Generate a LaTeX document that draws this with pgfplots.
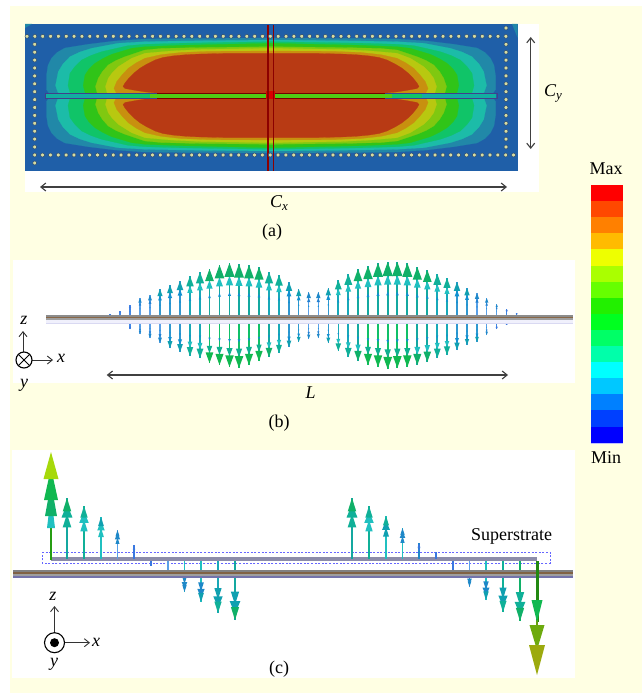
\documentclass[border=0pt]{standalone}
\usepackage{pgfplots}
\usepackage{pgfplotstable}
\usepackage{fontspec}
\setmainfont{Liberation Serif}
\pgfplotsset{compat=1.18}
\usetikzlibrary{arrows.meta}
\definecolor{bgy}{HTML}{FFFFE3}
\definecolor{lA}{HTML}{1F5FA8}
\definecolor{l1}{HTML}{2188A8}
\definecolor{l2}{HTML}{1CBCA8}
\definecolor{l3}{HTML}{10C468}
\definecolor{l4}{HTML}{30C418}
\definecolor{l5}{HTML}{80C810}
\definecolor{l6}{HTML}{B8C810}
\definecolor{l7}{HTML}{C8900F}
\definecolor{l8}{HTML}{B83A14}
\definecolor{hA}{HTML}{3A78E0}\definecolor{sA}{HTML}{4488E8}\definecolor{mA}{HTML}{3A78E0}
\definecolor{hB}{HTML}{1E88C8}\definecolor{sB}{HTML}{5AA0E8}\definecolor{mB}{HTML}{2080D0}
\definecolor{hC}{HTML}{10A0B0}\definecolor{sC}{HTML}{3098D0}\definecolor{mC}{HTML}{1090D0}
\definecolor{hD}{HTML}{10B098}\definecolor{sD}{HTML}{18A8B8}\definecolor{mD}{HTML}{20C0C0}
\definecolor{hE}{HTML}{10B068}\definecolor{sE}{HTML}{14A8A0}\definecolor{mE}{HTML}{20C0C0}
\definecolor{hF}{HTML}{10B850}\definecolor{sF}{HTML}{10C068}\definecolor{mF}{HTML}{10B090}
\definecolor{gr}{HTML}{404040}
\definecolor{dotf}{HTML}{D8DCA0}
\definecolor{dotd}{HTML}{2A4A70}

\pgfplotstableread{
dx dy
0 0
0 57.5
90 57
126 56.5
156 54.5
183 51.2
206 47.5
214 43
219.3 37.5
223 30
224.5 20
224.5 6
222 2.5
216 0
}\qA
\pgfplotstableread{
dx dy
0 0
0 55.5
90 54.5
126 53.8
153 52.2
179.3 47.2
191 43.5
201 38.8
208 31.5
212.7 23.8
215.5 10
213 3
207 0
}\qB
\pgfplotstableread{
dx dy
0 0
0 53.8
90 52.3
126 51.2
143 49.8
169.3 43.8
180 40
189.3 35.5
196 29
201 22.2
203 10
201 3
196 0
}\qC
\pgfplotstableread{
dx dy
0 0
0 52.2
90 50.2
126 48.8
139.3 47.2
159.3 41.2
168 37
176 32.2
182 26.5
186 20.5
187.8 10
186 3
181 0
}\qD
\pgfplotstableread{
dx dy
0 0
0 48.8
80 47.8
110 47
126 45.5
146 38.8
155 35
162.7 30.5
168.5 24
172.7 17.2
175.5 9
174 3
170 0
}\qE
\pgfplotstableread{
dx dy
0 0
0 47.2
70 46
100 44.5
126 42.2
139.3 37.2
152.7 28.8
158.5 23
162.7 17.2
165.5 9
164 3
160 0
}\qF
\pgfplotstableread{
dx dy
0 0
0 44.5
60 44.2
90 43
110 40.8
126 37.2
135 32.5
142.7 27.2
149 20.5
154.3 13.8
157 7
155 3
150 0
}\qG
\pgfplotstableread{
dx dy
0 0
0 42
48 42
70 41.5
85 40.8
98 39.6
108 38
116 35.5
124 31.5
131 27.3
137 22.5
142 17.5
146 12.5
148 9
146 7
135 5
125 3.5
114 2.5
114 0
}\qR
\pgfplotstableread{
x y
27 36.3
34.85 36.3
42.7 36.3
50.55 36.3
58.4 36.3
66.25 36.3
74.1 36.3
81.95 36.3
89.8 36.3
97.65 36.3
105.5 36.3
113.35 36.3
121.2 36.3
129.05 36.3
136.9 36.3
144.75 36.3
152.6 36.3
160.45 36.3
168.3 36.3
176.15 36.3
184 36.3
191.85 36.3
199.7 36.3
207.55 36.3
215.4 36.3
223.25 36.3
231.1 36.3
238.95 36.3
246.8 36.3
254.65 36.3
262.5 36.3
270.35 36.3
278.2 36.3
286.05 36.3
293.9 36.3
301.75 36.3
309.6 36.3
317.45 36.3
325.3 36.3
333.15 36.3
341 36.3
348.85 36.3
356.7 36.3
364.55 36.3
372.4 36.3
380.25 36.3
388.1 36.3
395.95 36.3
403.8 36.3
411.65 36.3
419.5 36.3
427.35 36.3
435.2 36.3
443.05 36.3
450.9 36.3
458.75 36.3
466.6 36.3
474.45 36.3
482.3 36.3
490.15 36.3
498 36.3
505.85 36.3
}\rowT

\newcommand\quarter[2]{%
\addplot[fill=#2,draw=#2,line width=.2] table[x expr=271-\thisrow{dx},y expr=95.5-\thisrow{dy}] {#1} --cycle;
\addplot[fill=#2,draw=#2,line width=.2] table[x expr=271+\thisrow{dx},y expr=95.5-\thisrow{dy}] {#1} --cycle;
\addplot[fill=#2,draw=#2,line width=.2] table[x expr=271-\thisrow{dx},y expr=95.5+\thisrow{dy}] {#1} --cycle;
\addplot[fill=#2,draw=#2,line width=.2] table[x expr=271+\thisrow{dx},y expr=95.5+\thisrow{dy}] {#1} --cycle;
}
\newcommand\rectp[5]{\addplot[fill=#5,draw=none] coordinates {(#1,#2)(#3,#2)(#3,#4)(#1,#4)} --cycle;}
\newcommand\head[5]{%
\pgfmathsetmacro\xl{#1-#4}\pgfmathsetmacro\xr{#1+#4}%
\edef\temp{\noexpand\addplot[fill=#5,draw=none] coordinates {(#1,#2)(\xl,#3)(\xr,#3)} --cycle;}\temp
}
% x, from, to, colour, width: a thin filled stem
\newcommand\stem[5]{%
\pgfmathsetmacro\sl{#1-#5/2}\pgfmathsetmacro\sr{#1+#5/2}%
\edef\temp{\noexpand\addplot[fill=#4,draw=none] coordinates {(\sl,#2)(\sr,#2)(\sr,#3)(\sl,#3)} --cycle;}\temp
}
% x, base, tip, stem colour, head colour, second head colour
\newcommand\arr[6]{%
\pgfmathsetmacro\dd{#2-#3}%
\pgfmathsetmacro\hh{#3+0.26*\dd}%
\pgfmathsetmacro\ww{max(1,0.095*abs(\dd))}%
\pgfmathsetmacro\tb{#3+0.24*\dd}%
\pgfmathsetmacro\bb{#3+0.42*\dd}%
\pgfmathsetmacro\wb{0.72*\ww}%
\pgfmathsetmacro\tc{#3+0.55*\dd}%
\pgfmathsetmacro\bc{#3+0.62*\dd}%
\pgfmathsetmacro\wc{0.3*\ww}%
\pgfmathsetmacro\sw{1.2+0.012*abs(\dd)}%
\edef\pHa{\hh}\edef\pWa{\ww}\edef\pTb{\tb}\edef\pBb{\bb}\edef\pWb{\wb}\edef\pTc{\tc}\edef\pBc{\bc}\edef\pWc{\wc}\edef\pSw{\sw}%
\stem{#1}{#2}{#3}{#4}{\pSw}%
\head{#1}{\pTc}{\pBc}{\pWc}{mC}%
\head{#1}{\pTb}{\pBb}{\pWb}{#6}%
\head{#1}{#3}{\pHa}{\pWa}{#5}%
}
\newcommand\ub[3]{\arr{#1}{316}{#2}{s#3}{h#3}{m#3}}
\newcommand\lb[3]{\arr{#1}{322}{#2}{s#3}{h#3}{m#3}}
% x, base, tip, stem colour, head, lower heads, stem width
\newcommand\arrc[7]{%
\pgfmathsetmacro\dd{#2-#3}%
\pgfmathsetmacro\Aa{#3+0.22*\dd}%
\pgfmathsetmacro\Ba{#3+0.10*\dd}%
\pgfmathsetmacro\Bb{#3+0.32*\dd}%
\pgfmathsetmacro\Ca{#3+0.26*\dd}%
\pgfmathsetmacro\Cb{#3+0.48*\dd}%
\pgfmathsetmacro\Wa{max(1,0.07*abs(\dd))}%
\pgfmathsetmacro\Wb{max(1.1,0.09*abs(\dd))}%
\pgfmathsetmacro\Wc{max(.9,0.07*abs(\dd))}%
\edef\pAa{\Aa}\edef\pBa{\Ba}\edef\pBb{\Bb}\edef\pCa{\Ca}\edef\pCb{\Cb}\edef\pWa{\Wa}\edef\pWb{\Wb}\edef\pWc{\Wc}%
\stem{#1}{#2}{#3}{#4}{#7}%
\head{#1}{\pCa}{\pCb}{\pWc}{#6}%
\head{#1}{\pBa}{\pBb}{\pWb}{#6}%
\head{#1}{#3}{\pAa}{\pWa}{#5}%
}
\begin{document}
\begin{tikzpicture}[x=1pt,y=1pt]
\begin{axis}[
  scale only axis, width=642pt, height=693pt,
  xmin=0, xmax=642, ymin=0, ymax=693, y dir=reverse,
  axis lines=none, clip=false,
]
% page
\rectp{0}{0}{642}{693}{white}
\rectp{10}{6}{642}{693}{bgy}
% panels
\rectp{25}{24}{539}{191.7}{white}
\rectp{13}{260}{575}{383}{white}
\rectp{12}{450}{575}{677.7}{white}
% heat map
\rectp{25}{24}{517.7}{170.7}{lA}
\addplot[fill=l1,draw=none] coordinates {(25,24)(32,24)(25,28)} --cycle;
\addplot[fill=l1,draw=none] coordinates {(512,24)(517.7,24)(517.7,38)} --cycle;
\quarter{\qA}{l1}
\quarter{\qB}{l2}
\quarter{\qC}{l3}
\quarter{\qD}{l4}
\quarter{\qE}{l5}
\quarter{\qF}{l6}
\quarter{\qG}{l7}
\quarter{\qR}{l8}
% bar
\rectp{46}{94}{496}{97.5}{l4!85!yellow}
\rectp{46}{94}{120}{97.5}{l2!75!cyan!85!black}
\rectp{422}{94}{496}{97.5}{l2!75!cyan!85!black}
\rectp{120}{94}{150}{97.5}{l3}
\rectp{392}{94}{422}{97.5}{l3}
\addplot[draw=black!60!blue!75!white,line width=.9pt] coordinates {(45,93.5)(157,93.5)};
\addplot[draw=black!60!blue!75!white,line width=.9pt] coordinates {(45,98)(157,98)};
\addplot[draw=black!60!blue!75!white,line width=.9pt] coordinates {(385,93.5)(497,93.5)(497,98)(385,98)};
\addplot[draw=black!60!blue!75!white,line width=.9pt] coordinates {(45,93.5)(45,98)};
\addplot[draw=red!45!black,line width=.9pt] coordinates {(157,93.5)(385,93.5)};
\addplot[draw=red!45!black,line width=.9pt] coordinates {(157,98)(385,98)};
\rectp{266}{91}{275}{99}{red!85!black}
% dots
\addplot[only marks,mark=*,mark size=2pt,mark options={fill=dotf,draw=dotd,line width=.5pt}] table[x=x,y=y] {\rowT};
\addplot[only marks,mark=*,mark size=2pt,mark options={fill=dotf,draw=dotd,line width=.5pt}] table[x expr=\thisrow{x}+7.7,y expr=155] {\rowT};
\addplot[only marks,mark=*,mark size=2pt,mark options={fill=dotf,draw=dotd,line width=.5pt}] coordinates {
(34.7,44.3)(34.7,52.2)(34.7,60.1)(34.7,68)(34.7,75.9)(34.7,83.8)(34.7,91.7)(34.7,99.6)(34.7,107.5)(34.7,115.4)(34.7,123.3)(34.7,131.2)(34.7,139.1)(34.7,147)(34.7,163)
(506,28)(506,44.3)(506,52.2)(506,60.1)(506,68)(506,75.9)(506,83.8)(506,91.7)(506,99.6)(506,107.5)(506,115.4)(506,123.3)(506,131.2)(506,139.1)(506,147)};
% dark red lines
\stem{268}{25}{171}{red!55!black}{1.5}
\stem{273.5}{25}{171}{red!55!black}{1.5}
% panel a arrows
\addplot[{Straight Barb[length=5pt,width=8pt]}-{Straight Barb[length=5pt,width=8pt]},draw=gr,line width=1.1pt] coordinates {(40,187)(507,187)};
\addplot[{Straight Barb[length=5pt,width=8pt]}-{Straight Barb[length=5pt,width=8pt]},draw=gr,line width=1.1pt] coordinates {(530.7,37)(530.7,149)};
% panel b upper arrows
\ub{110}{314}{A}\ub{120}{311}{A}
\ub{130}{305}{A}\ub{140}{298}{B}\ub{150}{295}{B}\ub{160}{289}{C}\ub{170}{285}{C}\ub{180}{281}{C}
\ub{190}{276}{D}\ub{200}{272}{D}\ub{209.5}{269}{E}\ub{219.5}{265}{E}\ub{229.5}{263}{E}\ub{239}{264}{E}
\ub{249}{265}{E}\ub{259}{267}{E}\ub{269}{272}{D}\ub{279}{275}{D}\ub{289}{282}{C}\ub{298.7}{289}{C}
\ub{308.7}{292}{B}\ub{318.3}{292}{B}\ub{328.3}{288}{C}\ub{338.3}{280}{D}\ub{348.3}{274}{D}\ub{358}{269}{E}
\ub{368}{266}{E}\ub{378}{263}{E}\ub{387.7}{262}{E}\ub{397.3}{262}{E}\ub{407.3}{263}{E}\ub{417.3}{267}{E}
\ub{427.3}{270}{E}\ub{437.3}{274}{D}\ub{447}{278}{D}\ub{457}{282}{C}\ub{467}{288}{C}\ub{477}{293}{B}
\ub{486.7}{298}{B}\ub{496.7}{304}{B}\ub{506.7}{309}{A}\ub{516.7}{313}{A}
% panel b lower arrows
\lb{130}{329}{A}\lb{140}{334}{B}\lb{150}{338}{B}\lb{160}{343}{B}\lb{170}{348}{C}\lb{180}{352}{C}
\lb{190}{356}{D}\lb{200}{358}{D}\lb{209.5}{363}{F}\lb{219.5}{365}{F}\lb{229.5}{367}{F}\lb{239}{368}{F}
\lb{249}{365}{F}\lb{259}{361}{F}\lb{269}{357}{E}\lb{279}{353}{D}\lb{289}{347}{C}\lb{298.7}{342}{C}
\lb{308.7}{339}{B}\lb{318.3}{338}{B}\lb{328.3}{343}{C}\lb{338.3}{351}{D}\lb{348.3}{357}{D}\lb{358}{361}{E}
\lb{368}{365}{F}\lb{378}{367}{F}\lb{387.7}{369}{F}\lb{397.3}{368}{F}\lb{407.3}{367}{F}\lb{417.3}{365}{E}
\lb{427.3}{362}{E}\lb{437.3}{358}{D}\lb{447}{355}{D}\lb{457}{350}{C}\lb{467}{345}{C}\lb{477}{342}{C}
\lb{486.7}{335}{B}\lb{496.7}{329}{A}\lb{506.7}{325}{A}
% panel b strip
\rectp{46}{315}{573}{316.5}{black!45}
\rectp{46}{316.5}{573}{318}{brown!60!black!85!white}
\rectp{46}{318}{573}{320}{black!38}
\rectp{46}{320}{573}{323}{black!22!blue!6!white}
\rectp{46}{323}{573}{324.3}{black!35!blue!15!white}
% panel b labels
\addplot[{Straight Barb[length=5pt,width=8pt]}-{Straight Barb[length=5pt,width=8pt]},draw=gr,line width=1.1pt] coordinates {(106.7,375)(508,375)};
\node[font=\fontsize{18}{20}\selectfont\itshape] at (axis cs:310.7,393) {L};
% axes b
\addplot[-{Straight Barb[length=5pt,width=8pt]},draw=black!80,line width=.9pt] coordinates {(23,352)(23,331)};
\addplot[-{Straight Barb[length=5pt,width=8pt]},draw=black!80,line width=.9pt] coordinates {(32,360)(53,360)};
\draw[black,line width=1.1] (axis cs:24,360) circle[radius=8pt];
\draw[black,line width=1] (axis cs:18.4,354.4) -- (axis cs:29.6,365.6);
\draw[black,line width=1] (axis cs:18.4,365.6) -- (axis cs:29.6,354.4);
\node[font=\fontsize{18}{20}\selectfont\itshape] at (axis cs:24,320) {z};
\node[font=\fontsize{18}{20}\selectfont\itshape] at (axis cs:61,358) {x};
\node[font=\fontsize{18}{20}\selectfont\itshape] at (axis cs:24,385) {y};
% panel c superstrate
\rectp{51}{557}{537}{561}{blue!25!black!45!white}
\addplot[draw=blue!60!white,line width=.9pt,dash pattern=on 2pt off 1.6pt] coordinates {(42,552)(550,552)(550,563)(42,563)} --cycle;
% panel c up arrows
\stem{51}{560}{500}{l4!80!black}{2.6}
\head{51}{495}{528}{4}{mE}
\head{51}{483}{516}{6}{hE}
\head{51}{468}{500}{7}{hF}
\head{51}{452}{479}{7.5}{l5!70!yellow}
\arrc{67}{559}{498}{sE}{hE}{hD}{2.2}
\arrc{84}{559}{506}{hD}{hD}{mD}{2}
\arrc{101}{559}{517}{mD}{hC}{mD}{1.6}
\arrc{117.5}{559}{530}{sB}{hB}{hB}{1.3}
\arrc{134}{559}{545}{hA}{hA}{hA}{1.1}
\arrc{352}{559}{498}{sE}{hE}{hD}{2.2}
\arrc{369}{559}{506}{hD}{hD}{mD}{1.8}
\arrc{386}{559}{516}{mD}{hD}{hC}{1.6}
\arrc{402.5}{559}{528}{mD}{hB}{hB}{1.3}
\arrc{419}{559}{543}{hB}{hA}{hA}{1.1}
\stem{436}{552}{559}{hA}{1.2}
% panel c down arrows
\stem{151}{561}{566}{hA}{1.2}
\stem{168}{561}{570}{sB}{1.2}
\arrc{184.5}{561}{592}{mD}{hB}{hB}{1.3}
\arrc{201}{561}{602}{mD}{hC}{hB}{1.3}
\arrc{218}{561}{613}{sD}{hD}{hC}{1.6}
\arrc{235}{561}{620}{sE}{hE}{hC}{2}
\stem{453}{561}{570}{hA}{1.2}
\arrc{469.5}{561}{587}{sB}{hB}{hB}{1.3}
\arrc{486}{561}{600}{mD}{hC}{hB}{1.3}
\arrc{503}{561}{612}{hD}{hD}{hC}{1.8}
\arrc{520}{561}{621}{hE}{hE}{hD}{2}
% panel c strip
\rectp{13}{570}{573}{572}{black!50}
\rectp{13}{572}{573}{573.5}{brown!55!black!85!white}
\rectp{13}{573.5}{573}{576}{black!38}
\rectp{13}{576}{573}{577.5}{blue!40!black!55!white}
% large down arrow
\stem{537}{561}{622}{l4!70!black}{3}
\stem{537}{620}{650}{l5!80!black}{2.8}
\head{537}{622}{600}{5.5}{hF}
\head{537}{650}{625}{7.5}{l5!85!black}
\head{537}{675}{645}{8}{l6!85!black}
% axes c
\addplot[-{Straight Barb[length=5pt,width=8pt]},draw=black!80,line width=.9pt] coordinates {(54.5,633)(54.5,606)};
\addplot[-{Straight Barb[length=5pt,width=8pt]},draw=black!80,line width=.9pt] coordinates {(65,642.7)(90,642.7)};
\draw[black,line width=1.1] (axis cs:54.5,642.7) circle[radius=10pt];
\fill[black] (axis cs:54.5,642.7) circle[radius=4.5pt];
\node[font=\fontsize{18}{20}\selectfont\itshape] at (axis cs:53,596) {z};
\node[font=\fontsize{18}{20}\selectfont\itshape] at (axis cs:96,642) {x};
\node[font=\fontsize{18}{20}\selectfont\itshape] at (axis cs:54,664) {y};
\node[font=\fontsize{18}{20}\selectfont] at (axis cs:511.7,536) {Superstrate};
% labels
\node[font=\fontsize{18}{20}\selectfont] at (axis cs:272,232) {(a)};
\node[font=\fontsize{18}{20}\selectfont] at (axis cs:279,423) {(b)};
\node[font=\fontsize{18}{20}\selectfont] at (axis cs:279,669) {(c)};
\node[font=\fontsize{18}{20}\selectfont] at (axis cs:279,203) {\textit{C}\raisebox{-3pt}{\fontsize{13}{13}\selectfont\textit{x}}};
\node[font=\fontsize{18}{20}\selectfont] at (axis cs:553,93) {\textit{C}\raisebox{-3pt}{\fontsize{13}{13}\selectfont\textit{y}}};
\node[font=\fontsize{18}{20}\selectfont] at (axis cs:606,168.5) {Max};
\node[font=\fontsize{18}{20}\selectfont] at (axis cs:606,458) {Min};
% colour scale
\rectp{590.7}{184.5}{623.3}{443.5}{blue!25!white}
\rectp{591}{185}{623}{201.1}{red}
\definecolor{c2}{HTML}{FF4800}\rectp{591}{201.1}{623}{217.2}{c2}
\definecolor{c3}{HTML}{FF8000}\rectp{591}{217.2}{623}{233.3}{c3}
\definecolor{c4}{HTML}{FFBB00}\rectp{591}{233.3}{623}{249.4}{c4}
\definecolor{c5}{HTML}{EEFF00}\rectp{591}{249.4}{623}{265.5}{c5}
\definecolor{c6}{HTML}{AAFF00}\rectp{591}{265.5}{623}{281.6}{c6}
\definecolor{c7}{HTML}{66FF00}\rectp{591}{281.6}{623}{297.7}{c7}
\definecolor{c8}{HTML}{22F000}\rectp{591}{297.7}{623}{313.8}{c8}
\definecolor{c9}{HTML}{00FF20}\rectp{591}{313.8}{623}{329.9}{c9}
\definecolor{c10}{HTML}{00FF66}\rectp{591}{329.9}{623}{346}{c10}
\definecolor{c11}{HTML}{00FFAA}\rectp{591}{346}{623}{362.1}{c11}
\definecolor{c12}{HTML}{00FFFF}\rectp{591}{362.1}{623}{378.2}{c12}
\definecolor{c13}{HTML}{00C8FF}\rectp{591}{378.2}{623}{394.3}{c13}
\definecolor{c14}{HTML}{0080FF}\rectp{591}{394.3}{623}{410.4}{c14}
\definecolor{c15}{HTML}{0040FF}\rectp{591}{410.4}{623}{426.5}{c15}
\definecolor{c16}{HTML}{0000FF}\rectp{591}{426.5}{623}{443}{c16}
\end{axis}
\end{tikzpicture}
\end{document}
